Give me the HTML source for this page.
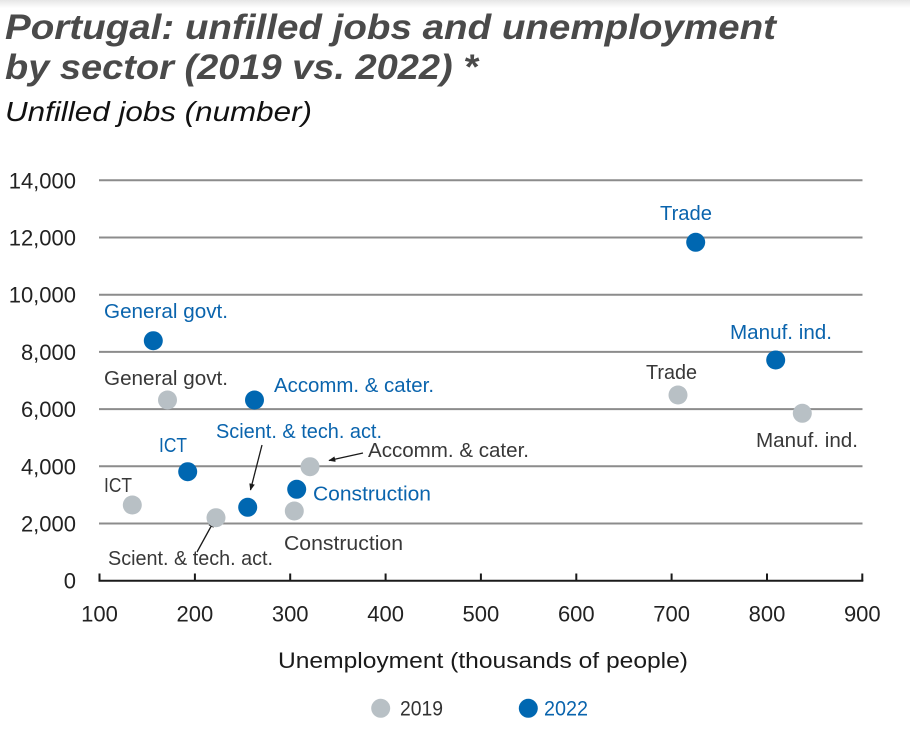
<!DOCTYPE html>
<html>
<head>
<meta charset="utf-8">
<style>
  html, body { margin: 0; padding: 0; background: #ffffff; }
  body { width: 910px; height: 733px; overflow: hidden; }
  svg { display: block; }
  text { font-family: "Liberation Sans", "DejaVu Sans", sans-serif; }
</style>
</head>
<body>
<svg width="910" height="733" viewBox="0 0 910 733" xmlns="http://www.w3.org/2000/svg">
  <defs>
    <linearGradient id="topfade" x1="0" y1="0" x2="0" y2="1">
      <stop offset="0" stop-color="#e6e6e6"/>
      <stop offset="1" stop-color="#ffffff"/>
    </linearGradient>
    <marker id="ah" viewBox="0 0 10 10" refX="9" refY="5" markerWidth="7" markerHeight="7" orient="auto" markerUnits="userSpaceOnUse">
      <path d="M0,1 L10,5 L0,9 z" fill="#1a1a1a"/>
    </marker>
  </defs>
  <rect x="0" y="0" width="910" height="733" fill="#ffffff"/>
  <rect x="0" y="0" width="910" height="8" fill="url(#topfade)"/>

  <!-- Title -->
  <text x="5" y="39" font-size="35" font-weight="bold" font-style="italic" fill="#4a4a4a" textLength="771" lengthAdjust="spacingAndGlyphs">Portugal: unfilled jobs and unemployment</text>
  <text x="5" y="79" font-size="35" font-weight="bold" font-style="italic" fill="#4a4a4a" textLength="473" lengthAdjust="spacingAndGlyphs">by sector (2019 vs. 2022) *</text>
  <text x="5" y="121" font-size="28" font-style="italic" fill="#111111" textLength="307" lengthAdjust="spacingAndGlyphs">Unfilled jobs (number)</text>

  <!-- Gridlines -->
  <g stroke="#8c8c8c" stroke-width="2">
    <line x1="99" y1="180.3" x2="862.5" y2="180.3"/>
    <line x1="99" y1="237.5" x2="862.5" y2="237.5"/>
    <line x1="99" y1="294.7" x2="862.5" y2="294.7"/>
    <line x1="99" y1="351.9" x2="862.5" y2="351.9"/>
    <line x1="99" y1="409.1" x2="862.5" y2="409.1"/>
    <line x1="99" y1="466.3" x2="862.5" y2="466.3"/>
    <line x1="99" y1="523.5" x2="862.5" y2="523.5"/>
  </g>

  <!-- Y tick labels -->
  <g font-size="22" fill="#222222" text-anchor="end">
    <text x="76" y="188.3">14,000</text>
    <text x="76" y="245.5">12,000</text>
    <text x="76" y="302.7">10,000</text>
    <text x="76" y="359.9">8,000</text>
    <text x="76" y="417.1">6,000</text>
    <text x="76" y="474.3">4,000</text>
    <text x="76" y="531.5">2,000</text>
    <text x="76" y="588.7">0</text>
  </g>

  <!-- X axis -->
  <line x1="98.5" y1="580.7" x2="863.3" y2="580.7" stroke="#1a1a1a" stroke-width="2"/>
  <g stroke="#1a1a1a" stroke-width="2">
    <line x1="99.5" y1="573.5" x2="99.5" y2="581"/>
    <line x1="194.9" y1="573.5" x2="194.9" y2="581"/>
    <line x1="290.2" y1="573.5" x2="290.2" y2="581"/>
    <line x1="385.6" y1="573.5" x2="385.6" y2="581"/>
    <line x1="480.9" y1="573.5" x2="480.9" y2="581"/>
    <line x1="576.3" y1="573.5" x2="576.3" y2="581"/>
    <line x1="671.6" y1="573.5" x2="671.6" y2="581"/>
    <line x1="767.0" y1="573.5" x2="767.0" y2="581"/>
    <line x1="862.3" y1="573.5" x2="862.3" y2="581"/>
  </g>
  <g font-size="22" fill="#222222" text-anchor="middle">
    <text x="99.5" y="621.5">100</text>
    <text x="194.9" y="621.5">200</text>
    <text x="290.2" y="621.5">300</text>
    <text x="385.6" y="621.5">400</text>
    <text x="480.9" y="621.5">500</text>
    <text x="576.3" y="621.5">600</text>
    <text x="671.6" y="621.5">700</text>
    <text x="767.0" y="621.5">800</text>
    <text x="862.3" y="621.5">900</text>
  </g>
  <text x="278" y="668" font-size="22" fill="#1a1a1a" textLength="410" lengthAdjust="spacingAndGlyphs">Unemployment (thousands of people)</text>

  <!-- Arrows -->
  <g stroke="#1a1a1a" stroke-width="1.3" fill="none">
    <line x1="363" y1="453" x2="329" y2="460.5" marker-end="url(#ah)"/>
    <line x1="262" y1="445" x2="250.5" y2="490" marker-end="url(#ah)"/>
    <line x1="197" y1="552" x2="214" y2="521" marker-end="url(#ah)"/>
  </g>

  <!-- 2019 markers (gray) -->
  <g fill="#b8c0c5">
    <circle cx="167.5" cy="400" r="9.5"/>
    <circle cx="132.3" cy="505" r="9.5"/>
    <circle cx="216" cy="517.7" r="9.5"/>
    <circle cx="310" cy="466.7" r="9.5"/>
    <circle cx="294.3" cy="511" r="9.5"/>
    <circle cx="678" cy="395" r="9.5"/>
    <circle cx="802.3" cy="413.3" r="9.5"/>
  </g>

  <!-- 2022 markers (blue) -->
  <g fill="#0067b1">
    <circle cx="153.3" cy="340.7" r="9.5"/>
    <circle cx="254.5" cy="400" r="9.5"/>
    <circle cx="187.7" cy="471.7" r="9.5"/>
    <circle cx="247.7" cy="507.3" r="9.5"/>
    <circle cx="296.7" cy="489.3" r="9.5"/>
    <circle cx="695.7" cy="242.3" r="9.5"/>
    <circle cx="775.7" cy="360" r="9.5"/>
  </g>

  <!-- 2022 labels (blue) -->
  <g font-size="20.5" fill="#0a64ad">
    <text x="660" y="220" textLength="52" lengthAdjust="spacingAndGlyphs">Trade</text>
    <text x="730" y="339" textLength="102" lengthAdjust="spacingAndGlyphs">Manuf. ind.</text>
    <text x="104" y="318" textLength="124" lengthAdjust="spacingAndGlyphs">General govt.</text>
    <text x="274" y="392" textLength="160" lengthAdjust="spacingAndGlyphs">Accomm. &amp; cater.</text>
    <text x="159" y="452" textLength="28" lengthAdjust="spacingAndGlyphs">ICT</text>
    <text x="216" y="438" textLength="166" lengthAdjust="spacingAndGlyphs">Scient. &amp; tech. act.</text>
    <text x="313" y="500.5" textLength="118" lengthAdjust="spacingAndGlyphs">Construction</text>
  </g>

  <!-- 2019 labels (dark gray) -->
  <g font-size="20.5" fill="#383838">
    <text x="646" y="379" textLength="51" lengthAdjust="spacingAndGlyphs">Trade</text>
    <text x="756" y="447" textLength="102" lengthAdjust="spacingAndGlyphs">Manuf. ind.</text>
    <text x="104" y="385" textLength="124" lengthAdjust="spacingAndGlyphs">General govt.</text>
    <text x="368" y="457" textLength="161" lengthAdjust="spacingAndGlyphs">Accomm. &amp; cater.</text>
    <text x="104" y="492" textLength="28" lengthAdjust="spacingAndGlyphs">ICT</text>
    <text x="284" y="550" textLength="119" lengthAdjust="spacingAndGlyphs">Construction</text>
    <text x="108" y="565" textLength="165" lengthAdjust="spacingAndGlyphs">Scient. &amp; tech. act.</text>
  </g>

  <!-- Legend -->
  <circle cx="380.7" cy="708.3" r="9.5" fill="#b8c0c5"/>
  <text x="400" y="715.5" font-size="21" fill="#333333" textLength="43" lengthAdjust="spacingAndGlyphs">2019</text>
  <circle cx="528.3" cy="708.3" r="9.5" fill="#0067b1"/>
  <text x="544" y="715.5" font-size="21" fill="#0a64ad" textLength="44" lengthAdjust="spacingAndGlyphs">2022</text>
</svg>
</body>
</html>
